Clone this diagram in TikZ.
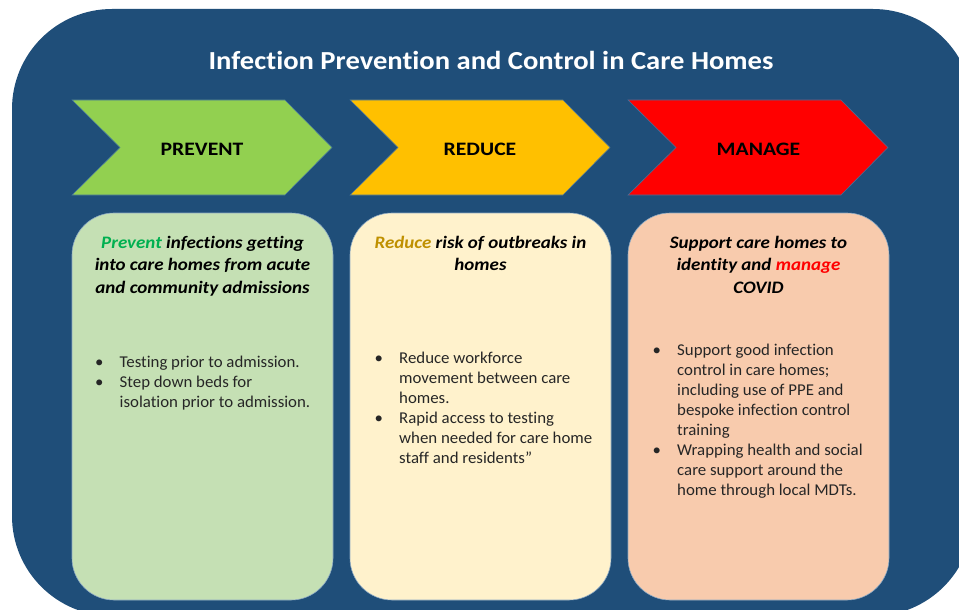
\documentclass[tikz,border=0pt]{standalone}
\usepackage{fontspec}
\setmainfont[RawFeature=-liga]{Carlito}
\newfontfamily\titlefont[FakeStretch=1.1,RawFeature=-liga]{Carlito}
\newfontfamily\chevfont[FakeStretch=1.14,RawFeature=-liga]{Carlito}
\newfontfamily\headfont[FakeStretch=1.085,RawFeature=-liga]{Carlito}
\newfontfamily\bulfont[FakeStretch=1.02,RawFeature=-liga]{Carlito}
\definecolor{bgblue}{HTML}{1F4E79}
\definecolor{edgeblue}{HTML}{41719C}
\definecolor{chgreen}{HTML}{92D050}
\definecolor{chyellow}{HTML}{FFC000}
\definecolor{chred}{HTML}{FF0000}
\definecolor{bxgreen}{HTML}{C5E0B4}
\definecolor{bxyellow}{HTML}{FFF2CC}
\definecolor{bxpeach}{HTML}{F8CBAD}
\definecolor{txgreen}{HTML}{00B050}
\definecolor{txgold}{HTML}{BF9000}
\definecolor{txred}{HTML}{FF0000}
\definecolor{txdark}{HTML}{262626}
\newcommand{\mychev}[2]{%
  \draw[chevshape, fill=#2] (#1,100) -- ({#1+213},100) -- ({#1+260},147.5)
    -- ({#1+213},195) -- (#1,195) -- ({#1+48},147.5) -- cycle;}
\begin{document}
\begin{tikzpicture}[x=1pt,y=-1pt,
  chevshape/.style={draw=edgeblue, line width=0.6pt},
  boxshape/.style={draw=edgeblue!60, line width=0.6pt, rounded corners=42pt},
  titletext/.style={text=white, font=\titlefont\fontsize{26}{30}\selectfont\bfseries, inner sep=0pt},
  chevlabel/.style={text=black, font=\chevfont\fontsize{19}{22}\selectfont\bfseries, inner sep=0pt},
  headtext/.style={text=black, font=\headfont\fontsize{17.5}{22.5}\selectfont\bfseries\itshape, inner sep=0pt},
  bullettext/.style={text=txdark, font=\bulfont\fontsize{16.5}{20}\selectfont, inner sep=0pt}]
\useasboundingbox (0,0) rectangle (959,610);
\fill[white] (0,0) rectangle (959,610);
\begin{scope}
  \clip (0,0) rectangle (959,610);
  \fill[bgblue, rounded corners=100pt] (12,9) rectangle (973,616);
\end{scope}

\node[titletext, anchor=base] (title) at (491,70) {Infection Prevention and Control in Care Homes};

\mychev{72}{chgreen}
\mychev{350}{chyellow}
\mychev{628}{chred}
\node[chevlabel, anchor=base] (lprev) at (202,155) {PREVENT};
\node[chevlabel, anchor=base] (lred) at (480,155) {REDUCE};
\node[chevlabel, anchor=base] (lman) at (758.5,155) {MANAGE};

\draw[boxshape, fill=bxgreen] (72,213) rectangle (333,600);
\draw[boxshape, fill=bxyellow] (350,213) rectangle (611,600);
\draw[boxshape, fill=bxpeach] (628,213) rectangle (889,600);

\node[headtext, anchor=base] (hprev) at (202.5,248) {\begin{tabular}[t]{@{}c@{}}\textcolor{txgreen}{Prevent} infections getting\\ into care homes from acute\\ and community admissions\end{tabular}};
\node[headtext, anchor=base] (hred) at (480.5,248) {\begin{tabular}[t]{@{}c@{}}\textcolor{txgold}{Reduce} risk of outbreaks in\\ homes\end{tabular}};
\node[headtext, anchor=base] (hman) at (758.5,248) {\begin{tabular}[t]{@{}c@{}}Support care homes to\\ identity and \textcolor{txred}{manage}\\ COVID\end{tabular}};

\node[bullettext, anchor=base west] (bprev) at (95,367) {\begin{tabular}[t]{@{}p{24.5pt}@{}l@{}}
\textbullet & Testing prior to admission.\\
\textbullet & Step down beds for\\
 & isolation prior to admission.\end{tabular}};
\node[bullettext, anchor=base west] (bred) at (374.5,363) {\begin{tabular}[t]{@{}p{24.5pt}@{}l@{}}
\textbullet & Reduce workforce\\
 & movement between care\\
 & homes.\\
\textbullet & Rapid access to testing\\
 & when needed for care home\\
 & staff and residents”\end{tabular}};
\node[bullettext, anchor=base west] (bman) at (652.5,355) {\begin{tabular}[t]{@{}p{24.5pt}@{}l@{}}
\textbullet & Support good infection\\
 & control in care homes;\\
 & including use of PPE and\\
 & bespoke infection control\\
 & training\\
\textbullet & Wrapping health and social\\
 & care support around the\\
 & home through local MDTs.\end{tabular}};
\end{tikzpicture}
\end{document}
